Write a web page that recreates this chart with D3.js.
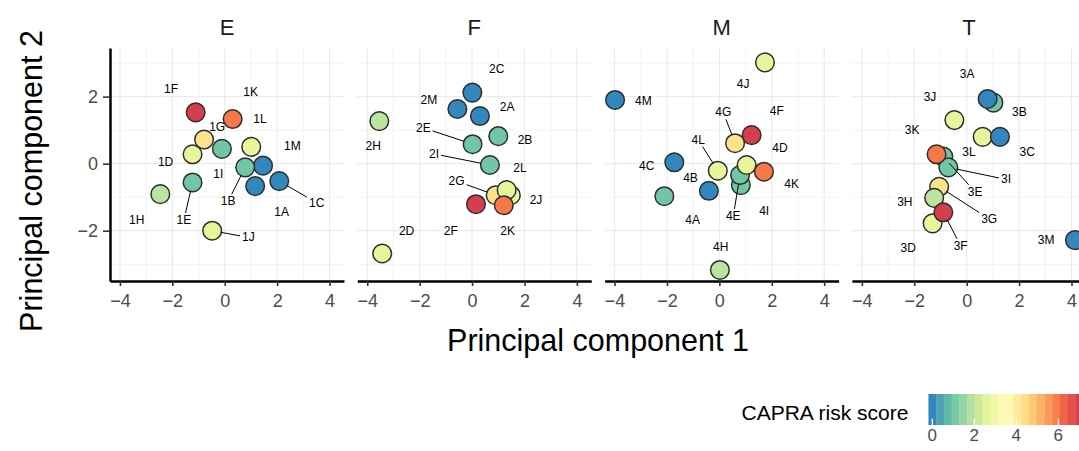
<!DOCTYPE html>
<html>
<head>
<meta charset="utf-8">
<script src="https://cdn.jsdelivr.net/npm/d3@7"></script>
<style>
  body { margin: 0; background: #fff; }
  text { font-family: "Liberation Sans", Arial, Helvetica, sans-serif; }
</style>
</head>
<body>
<svg id="chart" width="1079" height="451"></svg>
<script>
// ---- data ---------------------------------------------------------------
const facetNames = ["E", "F", "M", "T"];

// sample ids, in drawing order (later rows sit on top)
const sampleId = [
  "1A","1M","1B","1C","1E","1H","1G","1D","1I","1L","1J","1F","1K",
  "2C","2M","2A","2H","2B","2E","2I","2G","2J","2L","2K","2F","2D",
  "4J","4M","4F","4G","4C","4L","4I","4E","4D","4K","4B","4A","4H",
  "3B","3A","3J","3L","3C","3E","3I","3K","3D","3G","3H","3F","3M"
];
const facet = [
  "E","E","E","E","E","E","E","E","E","E","E","E","E",
  "F","F","F","F","F","F","F","F","F","F","F","F","F",
  "M","M","M","M","M","M","M","M","M","M","M","M","M",
  "T","T","T","T","T","T","T","T","T","T","T","T","T"
];
const pc1 = [
  1.16, 1.46, 0.78, 2.08, -1.23, -2.46, -0.79, -1.23, -0.11, 1.01, -0.48, -1.11, 0.30,
  0.01, -0.56, 0.30, -3.54, 1.00, 0.02, 0.68, 0.90, 1.48, 1.32, 1.21, 0.15, -3.43,
  1.74, -3.98, 1.23, 0.60, -1.72, -0.06, 0.82, 0.79, 1.04, 1.70, -0.40, -2.10, 0.02,
  1.02, 0.80, -0.47, 0.61, 1.27, -0.89, -0.70, -1.15, -1.30, -1.05, -1.24, -0.89, 4.13
];
const pc2 = [
  -0.67, -0.06, -0.11, -0.52, -0.56, -0.91, 0.72, 0.28, 0.44, 0.50, -2.00, 1.53, 1.33,
  2.12, 1.63, 1.42, 1.27, 0.82, 0.58, -0.04, -0.94, -0.94, -0.79, -1.24, -1.21, -2.68,
  3.02, 1.90, 0.85, 0.61, 0.04, -0.21, -0.64, -0.34, -0.04, -0.24, -0.81, -0.97, -3.17,
  1.82, 1.93, 1.30, 0.80, 0.80, 0.21, -0.11, 0.28, -1.78, -0.69, -1.02, -1.45, -2.28
];
const capra = [
  0, 0, 1, 0, 1, 2, 4.3, 2.7, 1, 2.7, 2.7, 7, 6,
  0, 0, 0, 2, 1, 1, 1, 4.3, 2.7, 2.7, 6, 7, 2.7,
  2.7, 0, 7, 4.3, 0, 2.7, 1, 1, 2.7, 6, 0, 1, 2,
  1, 0, 2.7, 2.7, 0, 1, 1, 6, 2.7, 4.3, 2, 7, 0
];
// repelled label positions (data units) and whether a leader line is shown
const labelPc1 = [
  2.17, 2.58, 0.13, 3.51, -1.56, -3.36, -0.29, -2.26, -0.25, 1.34, 0.90, -2.05, 0.99,
  0.94, -1.65, 1.34, -3.77, 2.02, -1.86, -1.45, -0.59, 2.44, 1.83, 1.36, -0.81, -2.50,
  0.91, -2.90, 2.19, 0.15, -2.77, -0.81, 1.71, 0.53, 2.31, 2.76, -1.10, -1.02, 0.05,
  2.01, 0.02, -1.40, 0.09, 2.31, 0.32, 1.50, -2.08, -2.23, 0.86, -2.36, -0.23, 3.03
];
const labelPc2 = [
  -1.43, 0.53, -1.12, -1.17, -1.68, -1.68, 1.08, 0.04, -0.31, 1.33, -2.20, 2.23, 2.13,
  2.81, 1.90, 1.70, 0.53, 0.72, 1.07, 0.29, -0.52, -1.07, -0.12, -2.00, -2.00, -2.00,
  2.37, 1.87, 1.57, 1.53, -0.07, 0.72, -1.41, -1.56, 0.47, -0.61, -0.42, -1.68, -2.48,
  1.55, 2.66, 2.00, 0.36, 0.36, -0.84, -0.47, 1.00, -2.53, -1.65, -1.14, -2.45, -2.28
];
const leader = [
  0, 0, 1, 1, 1, 0, 0, 0, 0, 0, 1, 0, 0,
  0, 0, 0, 0, 0, 1, 1, 1, 0, 0, 0, 0, 0,
  0, 0, 0, 1, 0, 1, 0, 1, 0, 0, 0, 0, 0,
  0, 0, 0, 0, 0, 1, 1, 0, 0, 1, 0, 1, 0
];

const xTicks = [-4, -2, 0, 2, 4];
const xMinor = [-3, -1, 1, 3];
const yTicks = [-2, 0, 2];
const yMinor = [-3, -1, 1, 3];
const legendTicks = [0, 2, 4, 6];
const capraLimits = [0, 7];
const spectral = ["#3288BD","#66C2A5","#ABDDA4","#E6F598","#FFFFBF","#FEE08B","#FDAE61","#F46D43","#D53E4F"];

// ---- layout -------------------------------------------------------------
const svg = d3.select("#chart");
const panelW = 234, panelH = 233, panelTop = 48;
const panelLeft = [110, 357.3, 604.6, 851.9];
const radius = 9.3;

const x = d3.scaleLinear().domain([-4.38, 4.55]).range([0, panelW]);
const y = d3.scaleLinear().domain([-3.5, 3.45]).range([panelH, 0]);
const color = d3.scaleLinear()
  .domain(spectral.map((_, i) => capraLimits[0] + i * (capraLimits[1] - capraLimits[0]) / (spectral.length - 1)))
  .range(spectral)
  .interpolate(d3.interpolateLab)
  .clamp(true);

const minusFmt = d => d < 0 ? "\u2212" + Math.abs(d) : String(d);

const rows = sampleId.map((id, i) => ({
  id, facet: facet[i], pc1: pc1[i], pc2: pc2[i], capra: capra[i],
  lx: labelPc1[i], ly: labelPc2[i], leader: leader[i] === 1
}));

facetNames.forEach((name, fi) => {
  const g = svg.append("g").attr("transform", `translate(${panelLeft[fi]},${panelTop})`);
  const clipId = "clip-" + name;
  g.append("clipPath").attr("id", clipId)
    .append("rect").attr("width", panelW).attr("height", panelH);

  // grid
  const grid = g.append("g");
  grid.selectAll(".xmin").data(xMinor).join("line")
    .attr("x1", d => x(d)).attr("x2", d => x(d)).attr("y1", 0).attr("y2", panelH)
    .attr("stroke", "#EBEBEB").attr("stroke-width", 0.6);
  grid.selectAll(".ymin").data(yMinor).join("line")
    .attr("y1", d => y(d)).attr("y2", d => y(d)).attr("x1", 0).attr("x2", panelW)
    .attr("stroke", "#EBEBEB").attr("stroke-width", 0.6);
  grid.selectAll(".xmaj").data(xTicks).join("line")
    .attr("x1", d => x(d)).attr("x2", d => x(d)).attr("y1", 0).attr("y2", panelH)
    .attr("stroke", "#EBEBEB").attr("stroke-width", 1.2);
  grid.selectAll(".ymaj").data(yTicks).join("line")
    .attr("y1", d => y(d)).attr("y2", d => y(d)).attr("x1", 0).attr("x2", panelW)
    .attr("stroke", "#EBEBEB").attr("stroke-width", 1.2);

  // facet title
  svg.append("text")
    .attr("x", panelLeft[fi] + panelW / 2).attr("y", 35)
    .attr("text-anchor", "middle").attr("font-size", 22).attr("fill", "#1A1A1A")
    .text(name);

  const data = rows.filter(r => r.facet === name);
  const plot = g.append("g").attr("clip-path", `url(#${clipId})`);

  plot.selectAll("circle").data(data).join("circle")
    .attr("cx", d => x(d.pc1)).attr("cy", d => y(d.pc2)).attr("r", radius)
    .attr("fill", d => color(d.capra))
    .attr("stroke", "#2E2E2E").attr("stroke-width", 1.5);

  // leader lines (filled after the labels are measured) + labels
  const segLayer = g.append("g");
  const labels = g.append("g").selectAll("text").data(data).join("text")
    .attr("x", d => x(d.lx)).attr("y", d => y(d.ly))
    .attr("text-anchor", "middle").attr("dominant-baseline", "central")
    .attr("font-size", 12).attr("fill", "#000")
    .text(d => d.id);

  const segs = [];
  labels.each(function (d) {
    if (!d.leader) return;
    const bb = this.getBBox();
    const cx = x(d.lx), cy = y(d.ly);
    const px = x(d.pc1), py = y(d.pc2);
    const dx = px - cx, dy = py - cy;
    const hw = bb.width / 2 + 2, hh = bb.height / 2;
    const t = Math.min(Math.abs(hw / (dx || 1e-9)), Math.abs(hh / (dy || 1e-9)));
    const len = Math.hypot(dx, dy);
    segs.push({
      x1: cx + dx * t, y1: cy + dy * t,
      x2: px - dx / len * radius * 0.95, y2: py - dy / len * radius * 0.95
    });
  });
  segLayer.selectAll("line").data(segs).join("line")
    .attr("x1", d => d.x1).attr("y1", d => d.y1).attr("x2", d => d.x2).attr("y2", d => d.y2)
    .attr("stroke", "#000").attr("stroke-width", 1);

  // x axis
  const ax = g.append("g").attr("transform", `translate(0,${panelH})`)
    .call(d3.axisBottom(x).tickValues(xTicks).tickSize(5).tickSizeOuter(0).tickPadding(8.5)
      .tickFormat(minusFmt));
  ax.select(".domain").attr("stroke", "#000").attr("stroke-width", 2.5);
  ax.selectAll(".tick line").attr("stroke", "#333").attr("stroke-width", 1.6);
  ax.selectAll(".tick text").attr("font-size", 18).attr("fill", "#4D4D4D")
    .attr("font-family", "Liberation Sans, Arial, sans-serif");

  if (fi === 0) {
    const ay = g.append("g")
      .call(d3.axisLeft(y).tickValues(yTicks).tickSize(7).tickSizeOuter(0).tickPadding(5)
        .tickFormat(minusFmt));
    ay.select(".domain").attr("stroke", "#000").attr("stroke-width", 2.5);
    ay.selectAll(".tick line").attr("stroke", "#333").attr("stroke-width", 1.6);
    ay.selectAll(".tick text").attr("font-size", 18).attr("fill", "#4D4D4D")
      .attr("font-family", "Liberation Sans, Arial, sans-serif");
  }
});

// axis titles
svg.append("text")
  .attr("x", 598).attr("y", 351)
  .attr("text-anchor", "middle").attr("font-size", 30.5).attr("fill", "#000")
  .text("Principal component 1");
svg.append("text")
  .attr("transform", "translate(42,181) rotate(-90)")
  .attr("text-anchor", "middle").attr("font-size", 30.5).attr("fill", "#000")
  .text("Principal component 2");

// ---- colour bar legend -------------------------------------------------
const nbin = 20;
const legX = d3.scaleLinear().domain(capraLimits).range([932.3, 932.3 + 147]);
const binW = (legX(capraLimits[1]) - legX(capraLimits[0])) / (nbin - 1);
const binVals = d3.range(nbin).map(i => capraLimits[0] + i * (capraLimits[1] - capraLimits[0]) / (nbin - 1));
const legTop = 394, legH = 31;
const leg = svg.append("g");
leg.selectAll("rect").data(binVals).join("rect")
  .attr("x", d => legX(d) - binW / 2).attr("y", legTop)
  .attr("width", binW + 0.3).attr("height", legH)
  .attr("fill", d => color(d));
leg.selectAll(".tk").data(legendTicks).join("line")
  .attr("x1", d => legX(d)).attr("x2", d => legX(d))
  .attr("y1", legTop + legH - legH / 5).attr("y2", legTop + legH)
  .attr("stroke", "#fff").attr("stroke-width", 1.2);
leg.selectAll(".lb").data(legendTicks).join("text")
  .attr("x", d => legX(d)).attr("y", 441)
  .attr("text-anchor", "middle").attr("font-size", 17).attr("fill", "#4D4D4D")
  .text(d => d);
svg.append("text")
  .attr("x", 741.5).attr("y", 419.5)
  .attr("font-size", 21).attr("fill", "#000")
  .text("CAPRA risk score");
</script>
</body>
</html>
